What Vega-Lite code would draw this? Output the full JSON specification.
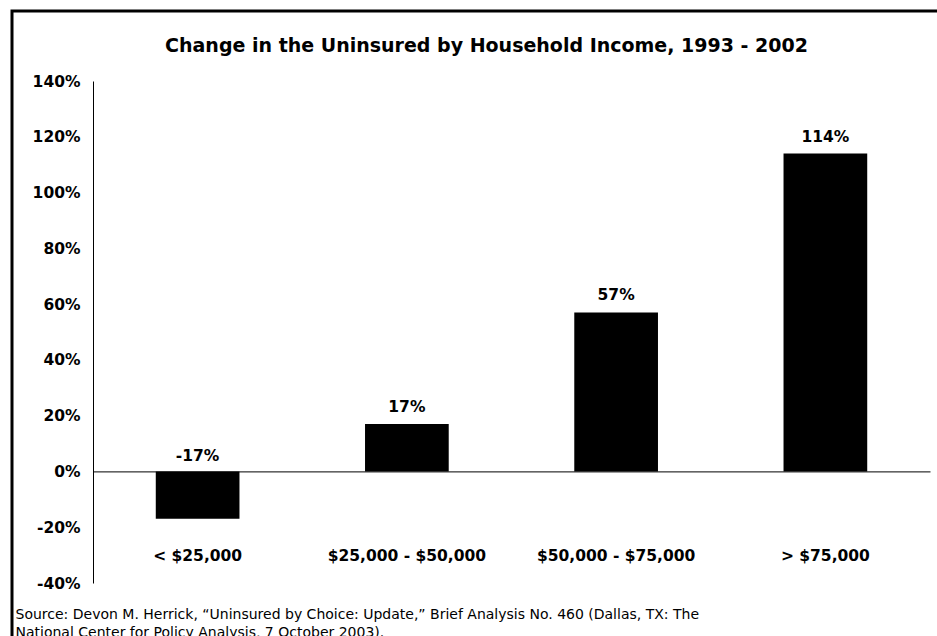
{
  "$schema": "https://vega.github.io/schema/vega-lite/v6.json",
  "width": 935,
  "height": 639,
  "autosize": {"type": "none"},
  "padding": {"left": 12, "top": 11, "right": -10, "bottom": -14},
  "background": "white",
  "config": {
    "view": {"stroke": "black", "strokeWidth": 3, "fill": "white"},
    "font": "DejaVu Sans",
    "locale": {"number": {"decimal": ".", "thousands": ",", "grouping": [3], "currency": ["$", ""], "minus": "-"}}
  },
  "title": {
    "text": "Change in the Uninsured by Household Income, 1993 - 2002",
    "font": "DejaVu Sans",
    "fontSize": 19,
    "fontWeight": "bold",
    "color": "black",
    "anchor": "middle",
    "frame": "group",
    "offset": -54,
    "baseline": "middle",
    "dx": 7
  },
  "data": {
    "values": [
      {"income": "< $25,000", "change": -0.17},
      {"income": "$25,000 - $50,000", "change": 0.17},
      {"income": "$50,000 - $75,000", "change": 0.57},
      {"income": "> $75,000", "change": 1.14}
    ]
  },
  "encoding": {
    "x": {
      "field": "income",
      "type": "nominal",
      "sort": null,
      "scale": {"range": [81, 918], "paddingInner": 0.6, "paddingOuter": 0.3},
      "axis": {
        "orient": "bottom",
        "offset": -178.6,
        "domain": true,
        "domainColor": "black",
        "domainWidth": 1,
        "ticks": false,
        "grid": false,
        "labelAngle": 0,
        "labelFont": "DejaVu Sans",
        "labelFontSize": 15.5,
        "labelFontWeight": "bold",
        "labelColor": "black",
        "labelPadding": 77,
        "labelBaseline": "top",
        "title": [
          "Source: Devon M. Herrick, “Uninsured by Choice: Update,” Brief Analysis No. 460 (Dallas, TX: The",
          "National Center for Policy Analysis, 7 October 2003)."
        ],
        "titleFont": "DejaVu Sans",
        "titleFontSize": 14,
        "titleFontWeight": "normal",
        "titleColor": "black",
        "titleAlign": "left",
        "titleAnchor": "start",
        "titleX": 3,
        "titleY": 136,
        "titleBaseline": "top",
        "titleLineHeight": 18
      }
    },
    "y": {
      "field": "change",
      "type": "quantitative",
      "scale": {"domain": [-0.4, 1.4], "range": [572, 70], "nice": false, "zero": false},
      "axis": {
        "orient": "left",
        "offset": -81,
        "values": [-0.4, -0.2, 0, 0.2, 0.4, 0.6, 0.8, 1.0, 1.2, 1.4],
        "format": ".0%",
        "domain": true,
        "domainColor": "black",
        "domainWidth": 1,
        "ticks": false,
        "grid": false,
        "labelFont": "DejaVu Sans",
        "labelFontSize": 15.5,
        "labelFontWeight": "bold",
        "labelColor": "black",
        "labelPadding": 13,
        "title": null
      }
    }
  },
  "layer": [
    {"mark": {"type": "bar", "color": "black"}},
    {
      "transform": [{"filter": "datum.change >= 0"}],
      "mark": {"type": "text", "font": "DejaVu Sans", "fontSize": 15.5, "fontWeight": "bold", "color": "black", "baseline": "middle", "dy": -17},
      "encoding": {"text": {"field": "change", "type": "quantitative", "format": ".0%"}}
    },
    {
      "transform": [{"filter": "datum.change < 0"}],
      "mark": {"type": "text", "font": "DejaVu Sans", "fontSize": 15.5, "fontWeight": "bold", "color": "black", "baseline": "middle", "dy": -15},
      "encoding": {
        "y": {"datum": 0, "type": "quantitative"},
        "text": {"field": "change", "type": "quantitative", "format": ".0%"}
      }
    }
  ]
}
